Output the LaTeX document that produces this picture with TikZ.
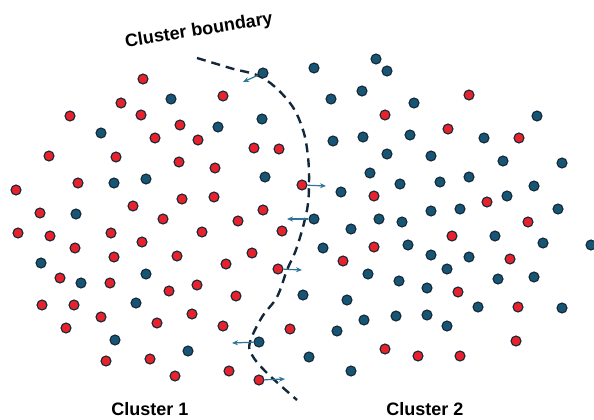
\documentclass[tikz,border=0pt]{standalone}
\usepackage{fontspec}
\setmainfont{Liberation Sans}
\usetikzlibrary{arrows.meta}
\definecolor{dotred}{HTML}{E8222B}
\definecolor{dotblue}{HTML}{185573}
\definecolor{rimcol}{HTML}{12283A}
\definecolor{movecol}{HTML}{2E7496}

\begin{document}
\begin{tikzpicture}[x=1pt, y=-1pt,
  reddot/.style={shape=circle, draw=rimcol, line width=1.1pt, fill=dotred, minimum size=10pt, inner sep=0pt},
  bluedot/.style={shape=circle, draw=rimcol, line width=1.1pt, fill=dotblue, minimum size=10pt, inner sep=0pt},
  move/.style={draw=movecol, line width=1.2pt, -{Stealth[length=6pt,width=5pt]}},
  label/.style={font=\bfseries\fontsize{18}{20}\selectfont, text=black}]
\useasboundingbox (0,0) rectangle (594,420);

% boundary
\draw[rimcol, line width=2.4pt, dash pattern=on 9pt off 6pt] plot[smooth, tension=0.6] coordinates {(197,58) (230,68) (263,78) (290,103) (303,130) (308,157) (309,183) (307,210) (297,247) (287,270) (277,297) (262,317) (250,342) (252,355) (267,373) (297,400)};

% cluster 1
\foreach \p [count=\i] in {(143,79),(223,96),(121,103),(141,115),(70,116),(180,125),(155,138),(198,140),(254,148),(279,149),(49,156),(116,157),(179,162),(215,168),(16,190),(78,183),(182,199),(214,197),(133,206),(263,210),(40,213),(163,219),(238,221),(18,233),(50,236),(111,233),(142,242),(202,232),(282,231),(75,248),(114,257),(177,256),(252,253),(226,264),(60,278),(110,283),(169,291),(197,285),(236,296),(42,305),(74,305),(101,317),(192,314),(157,323),(66,328),(223,326),(290,329),(106,361),(150,359),(229,371),(175,376)}
  \node[reddot] (ra\i) at \p {};
\foreach \p [count=\i] in {(171,99),(262,119),(218,127),(101,133),(265,177),(114,183),(146,179),(76,214),(41,263),(146,274),(81,283),(136,303),(115,340),(188,351)}
  \node[bluedot] (ba\i) at \p {};

% cluster 2
\foreach \p [count=\i] in {(314,68),(376,59),(387,71),(362,91),(331,99),(414,103),(537,116),(333,141),(363,137),(410,135),(484,138),(387,154),(431,156),(503,161),(562,163),(370,173),(400,184),(440,182),(469,177),(534,186),(341,192),(507,196),(431,211),(460,209),(558,209),(351,229),(379,219),(402,222),(495,236),(543,243),(591,245),(323,248),(408,245),(431,255),(469,257),(447,269),(368,274),(399,281),(427,288),(498,279),(534,277),(303,295),(347,300),(478,307),(562,308),(364,320),(396,316),(427,315),(447,326),(337,331),(309,357),(351,371)}
  \node[bluedot] (bb\i) at \p {};
\foreach \p [count=\i] in {(469,95),(385,115),(448,129),(519,138),(374,196),(487,202),(528,222),(452,236),(374,247),(510,259),(343,261),(458,292),(518,307),(516,341),(385,349),(418,356),(460,356)}
  \node[reddot] (rb\i) at \p {};

% points that move across
\node[bluedot] (mv1) at (263,73) {};
\node[reddot] (mv2) at (302,185) {};
\node[bluedot] (mv3) at (314,219) {};
\node[reddot] (mv4) at (278,269) {};
\node[bluedot] (mv5) at (259,342) {};
\node[reddot] (mv6) at (259,380) {};
\coordinate (tip1) at (243,82);
\coordinate (tip2) at (326,186);
\coordinate (tip3) at (287,219);
\coordinate (tip4) at (302,270);
\coordinate (tip5) at (232,343);
\coordinate (tip6) at (285,379);
\foreach \i in {1,...,6}
  \draw[move] (mv\i) -- (tip\i);

\node[label, rotate=9] (bndlabel) at (199,31) {Cluster boundary};
\node[label] (c1label) at (150,409) {Cluster 1};
\node[label] (c2label) at (425,409) {Cluster 2};
\end{tikzpicture}
\end{document}
